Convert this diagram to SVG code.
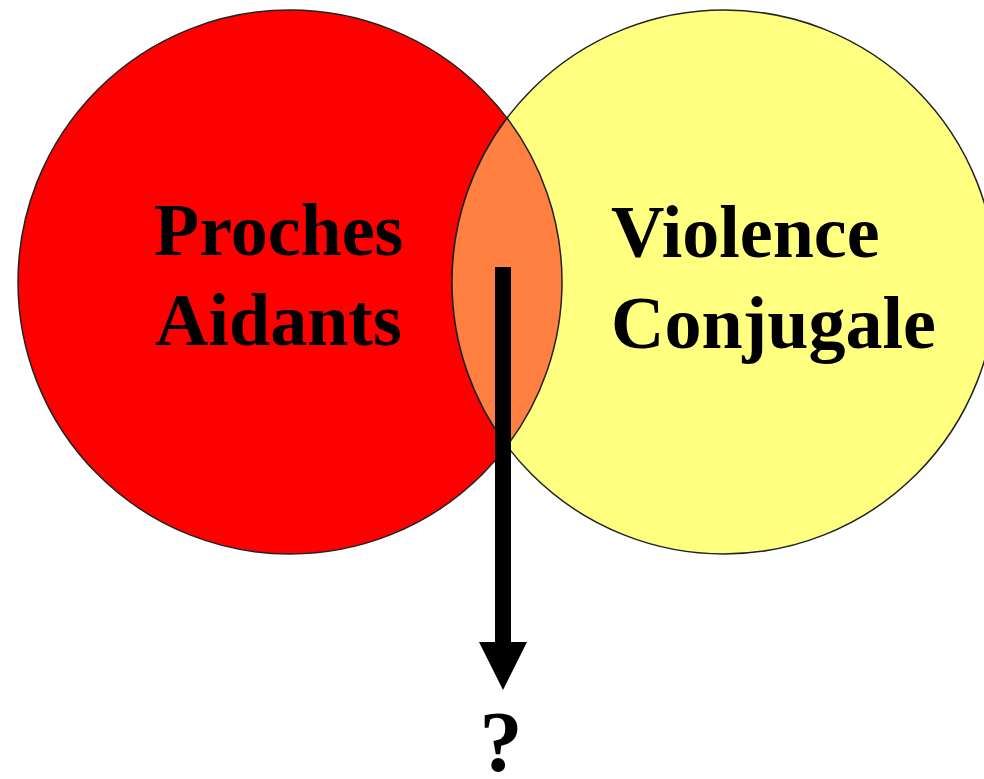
<svg xmlns="http://www.w3.org/2000/svg" width="984" height="779" viewBox="0 0 984 779">
  <style>
    .circ { stroke: #222; stroke-width: 1.5; }
    .lbl { font-family: "Liberation Serif", "Times New Roman", serif; font-weight: bold; font-size: 74px; fill: #000; }
    .q { font-family: "Liberation Serif", "Times New Roman", serif; font-weight: bold; font-size: 86px; fill: #000; text-anchor: middle; }
  </style>
  <defs>
    <marker id="head" markerUnits="userSpaceOnUse" viewBox="0 0 48 48" markerWidth="48" markerHeight="48" refX="0" refY="24" orient="auto">
      <path d="M0,0 L48,24 L0,48 Z" fill="#000"/>
    </marker>
  </defs>
  <rect width="984" height="779" fill="#fff"/>
  <g id="proches-aidants">
    <circle class="circ" cx="290" cy="282" r="272" fill="#ff0000"/>
  </g>
  <g id="violence-conjugale">
    <circle class="circ" cx="724" cy="282" r="272" fill="#ffff80"/>
  </g>
  <g id="intersection">
    <path class="circ" d="M507,118 A272,272 0 0 1 507,446 A272,272 0 0 1 507,118 Z" fill="#ff8040"/>
  </g>
  <g id="labels">
    <text class="lbl" x="154" y="255">Proches</text>
    <text class="lbl" x="155" y="345">Aidants</text>
    <text class="lbl" x="611" y="257">Violence</text>
    <text class="lbl" x="611" y="348">Conjugale</text>
  </g>
  <g id="connectors">
    <line x1="503" y1="267" x2="503" y2="642" stroke="#000" stroke-width="16" marker-end="url(#head)"/>
  </g>
  <g id="question">
    <text class="q" x="501" y="771">?</text>
  </g>
</svg>
